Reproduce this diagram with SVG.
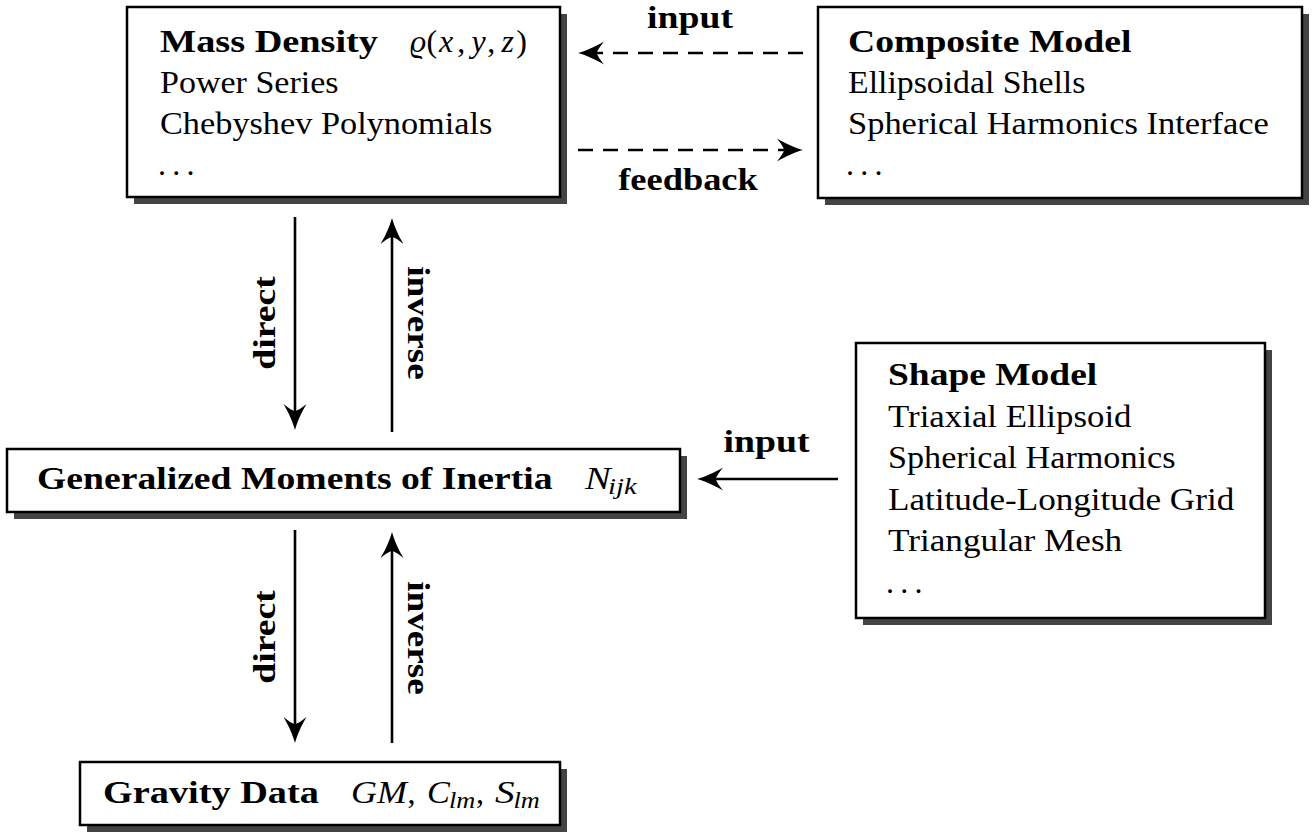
<svg xmlns="http://www.w3.org/2000/svg" width="1313" height="832" viewBox="0 0 1313 832">
<style>
.t{font-family:"Liberation Serif","Times New Roman",serif;font-size:32px;fill:#000}
.b{font-weight:bold}
.i{font-style:italic}
.s{font-size:22.4px}
.m{text-anchor:middle}
.box{fill:#fff;stroke:#000;stroke-width:2.5}
.sh{fill:#444}
.ln{stroke:#000;stroke-width:2.6;fill:none;marker-end:url(#ah)}
.ds{stroke-dasharray:15 10}
</style>
<defs>
<marker id="ah" markerUnits="userSpaceOnUse" markerWidth="32" markerHeight="28" viewBox="-28 -14 32 28" refX="-10" refY="0" orient="auto">
<path d="M0,0 C-7,-2 -17,-6 -26,-11.5 C-21,-5 -19,-2 -19,0 C-19,2 -21,5 -26,11.5 C-17,6 -7,2 0,0 Z" fill="#000"/>
</marker>
</defs>
<rect width="1313" height="832" fill="#fff"/>
<g id="mass-density">
<rect class="sh" x="134" y="14" width="433" height="190"/>
<rect class="box" x="127" y="7" width="433" height="190"/>
<text class="t b" x="160" y="52" textLength="218" lengthAdjust="spacingAndGlyphs">Mass Density</text>
<text class="t" y="52"><tspan class="i" x="410">ϱ</tspan><tspan x="426.5">(</tspan><tspan class="i" x="439">x</tspan><tspan x="457.3">,</tspan><tspan class="i" x="471.5">y</tspan><tspan x="487.2">,</tspan><tspan class="i" x="501.4">z</tspan><tspan x="516.3">)</tspan></text>
<text class="t" x="160" y="93" textLength="178.6" lengthAdjust="spacingAndGlyphs">Power Series</text>
<text class="t" x="160" y="134" textLength="332.4" lengthAdjust="spacingAndGlyphs">Chebyshev Polynomials</text>
<text class="t" x="158 172.2 186.4" y="175">...</text>
</g>
<g id="composite-model">
<rect class="sh" x="825" y="14" width="484" height="191"/>
<rect class="box" x="818" y="7" width="484" height="191"/>
<text class="t b" x="848" y="52" textLength="283.5" lengthAdjust="spacingAndGlyphs">Composite Model</text>
<text class="t" x="848" y="93" textLength="237.3" lengthAdjust="spacingAndGlyphs">Ellipsoidal Shells</text>
<text class="t" x="848" y="134" textLength="420.9" lengthAdjust="spacingAndGlyphs">Spherical Harmonics Interface</text>
<text class="t" x="846 860.2 874.4" y="175">...</text>
</g>
<g id="moments">
<rect class="sh" x="14" y="456" width="673" height="63"/>
<rect class="box" x="7" y="449" width="673" height="63"/>
<text class="t b" x="37" y="489" textLength="515.6" lengthAdjust="spacingAndGlyphs">Generalized Moments of Inertia</text>
<text class="t i" x="585" y="489" textLength="25.7" lengthAdjust="spacingAndGlyphs">N</text>
<text class="t i s" x="608" y="494" textLength="28.6" lengthAdjust="spacingAndGlyphs">ijk</text>
</g>
<g id="shape-model">
<rect class="sh" x="863" y="350" width="409" height="275"/>
<rect class="box" x="856" y="343" width="409" height="275"/>
<text class="t b" x="888" y="385" textLength="209.2" lengthAdjust="spacingAndGlyphs">Shape Model</text>
<text class="t" x="888" y="426.5" textLength="243.5" lengthAdjust="spacingAndGlyphs">Triaxial Ellipsoid</text>
<text class="t" x="888" y="468" textLength="287.5" lengthAdjust="spacingAndGlyphs">Spherical Harmonics</text>
<text class="t" x="888" y="509.5" textLength="346.2" lengthAdjust="spacingAndGlyphs">Latitude-Longitude Grid</text>
<text class="t" x="888" y="551" textLength="234.2" lengthAdjust="spacingAndGlyphs">Triangular Mesh</text>
<text class="t" x="886 900.2 914.4" y="592.5">...</text>
</g>
<g id="gravity-data">
<rect class="sh" x="87" y="769" width="480" height="63"/>
<rect class="box" x="80" y="762" width="480" height="63"/>
<text class="t b" x="103" y="803" textLength="215.8" lengthAdjust="spacingAndGlyphs">Gravity Data</text>
<text class="t i" x="351" y="803" textLength="56" lengthAdjust="spacingAndGlyphs">GM</text>
<text class="t" x="407.4" y="803">,</text>
<text class="t i" x="427" y="803" textLength="22.9" lengthAdjust="spacingAndGlyphs">C</text>
<text class="t i s" x="449" y="807.8" textLength="26.3" lengthAdjust="spacingAndGlyphs">lm</text>
<text class="t" x="476" y="803">,</text>
<text class="t i" x="495" y="803" textLength="19.6" lengthAdjust="spacingAndGlyphs">S</text>
<text class="t i s" x="513.5" y="807.8" textLength="26.3" lengthAdjust="spacingAndGlyphs">lm</text>
</g>
<g id="connectors">
<line class="ln ds" x1="803" y1="53" x2="588" y2="53"/>
<line class="ln ds" x1="578" y1="150" x2="793" y2="150"/>
<line class="ln" x1="295" y1="217" x2="295" y2="420"/>
<line class="ln" x1="392" y1="432" x2="392" y2="228"/>
<line class="ln" x1="295" y1="530" x2="295" y2="733"/>
<line class="ln" x1="392" y1="743" x2="392" y2="542"/>
<line class="ln" x1="838" y1="479" x2="707" y2="479"/>
<text class="t b m" x="690" y="28" textLength="85.9" lengthAdjust="spacingAndGlyphs">input</text>
<text class="t b m" x="688" y="190" textLength="139.5" lengthAdjust="spacingAndGlyphs">feedback</text>
<text class="t b m" x="766.5" y="452" textLength="85.9" lengthAdjust="spacingAndGlyphs">input</text>
<text class="t b m" transform="translate(275,323) rotate(-90)" textLength="93.4" lengthAdjust="spacingAndGlyphs">direct</text>
<text class="t b m" transform="translate(408,323) rotate(90)" textLength="113.5" lengthAdjust="spacingAndGlyphs">inverse</text>
<text class="t b m" transform="translate(275,637) rotate(-90)" textLength="93.4" lengthAdjust="spacingAndGlyphs">direct</text>
<text class="t b m" transform="translate(408,638) rotate(90)" textLength="113.5" lengthAdjust="spacingAndGlyphs">inverse</text>
</g>
</svg>
